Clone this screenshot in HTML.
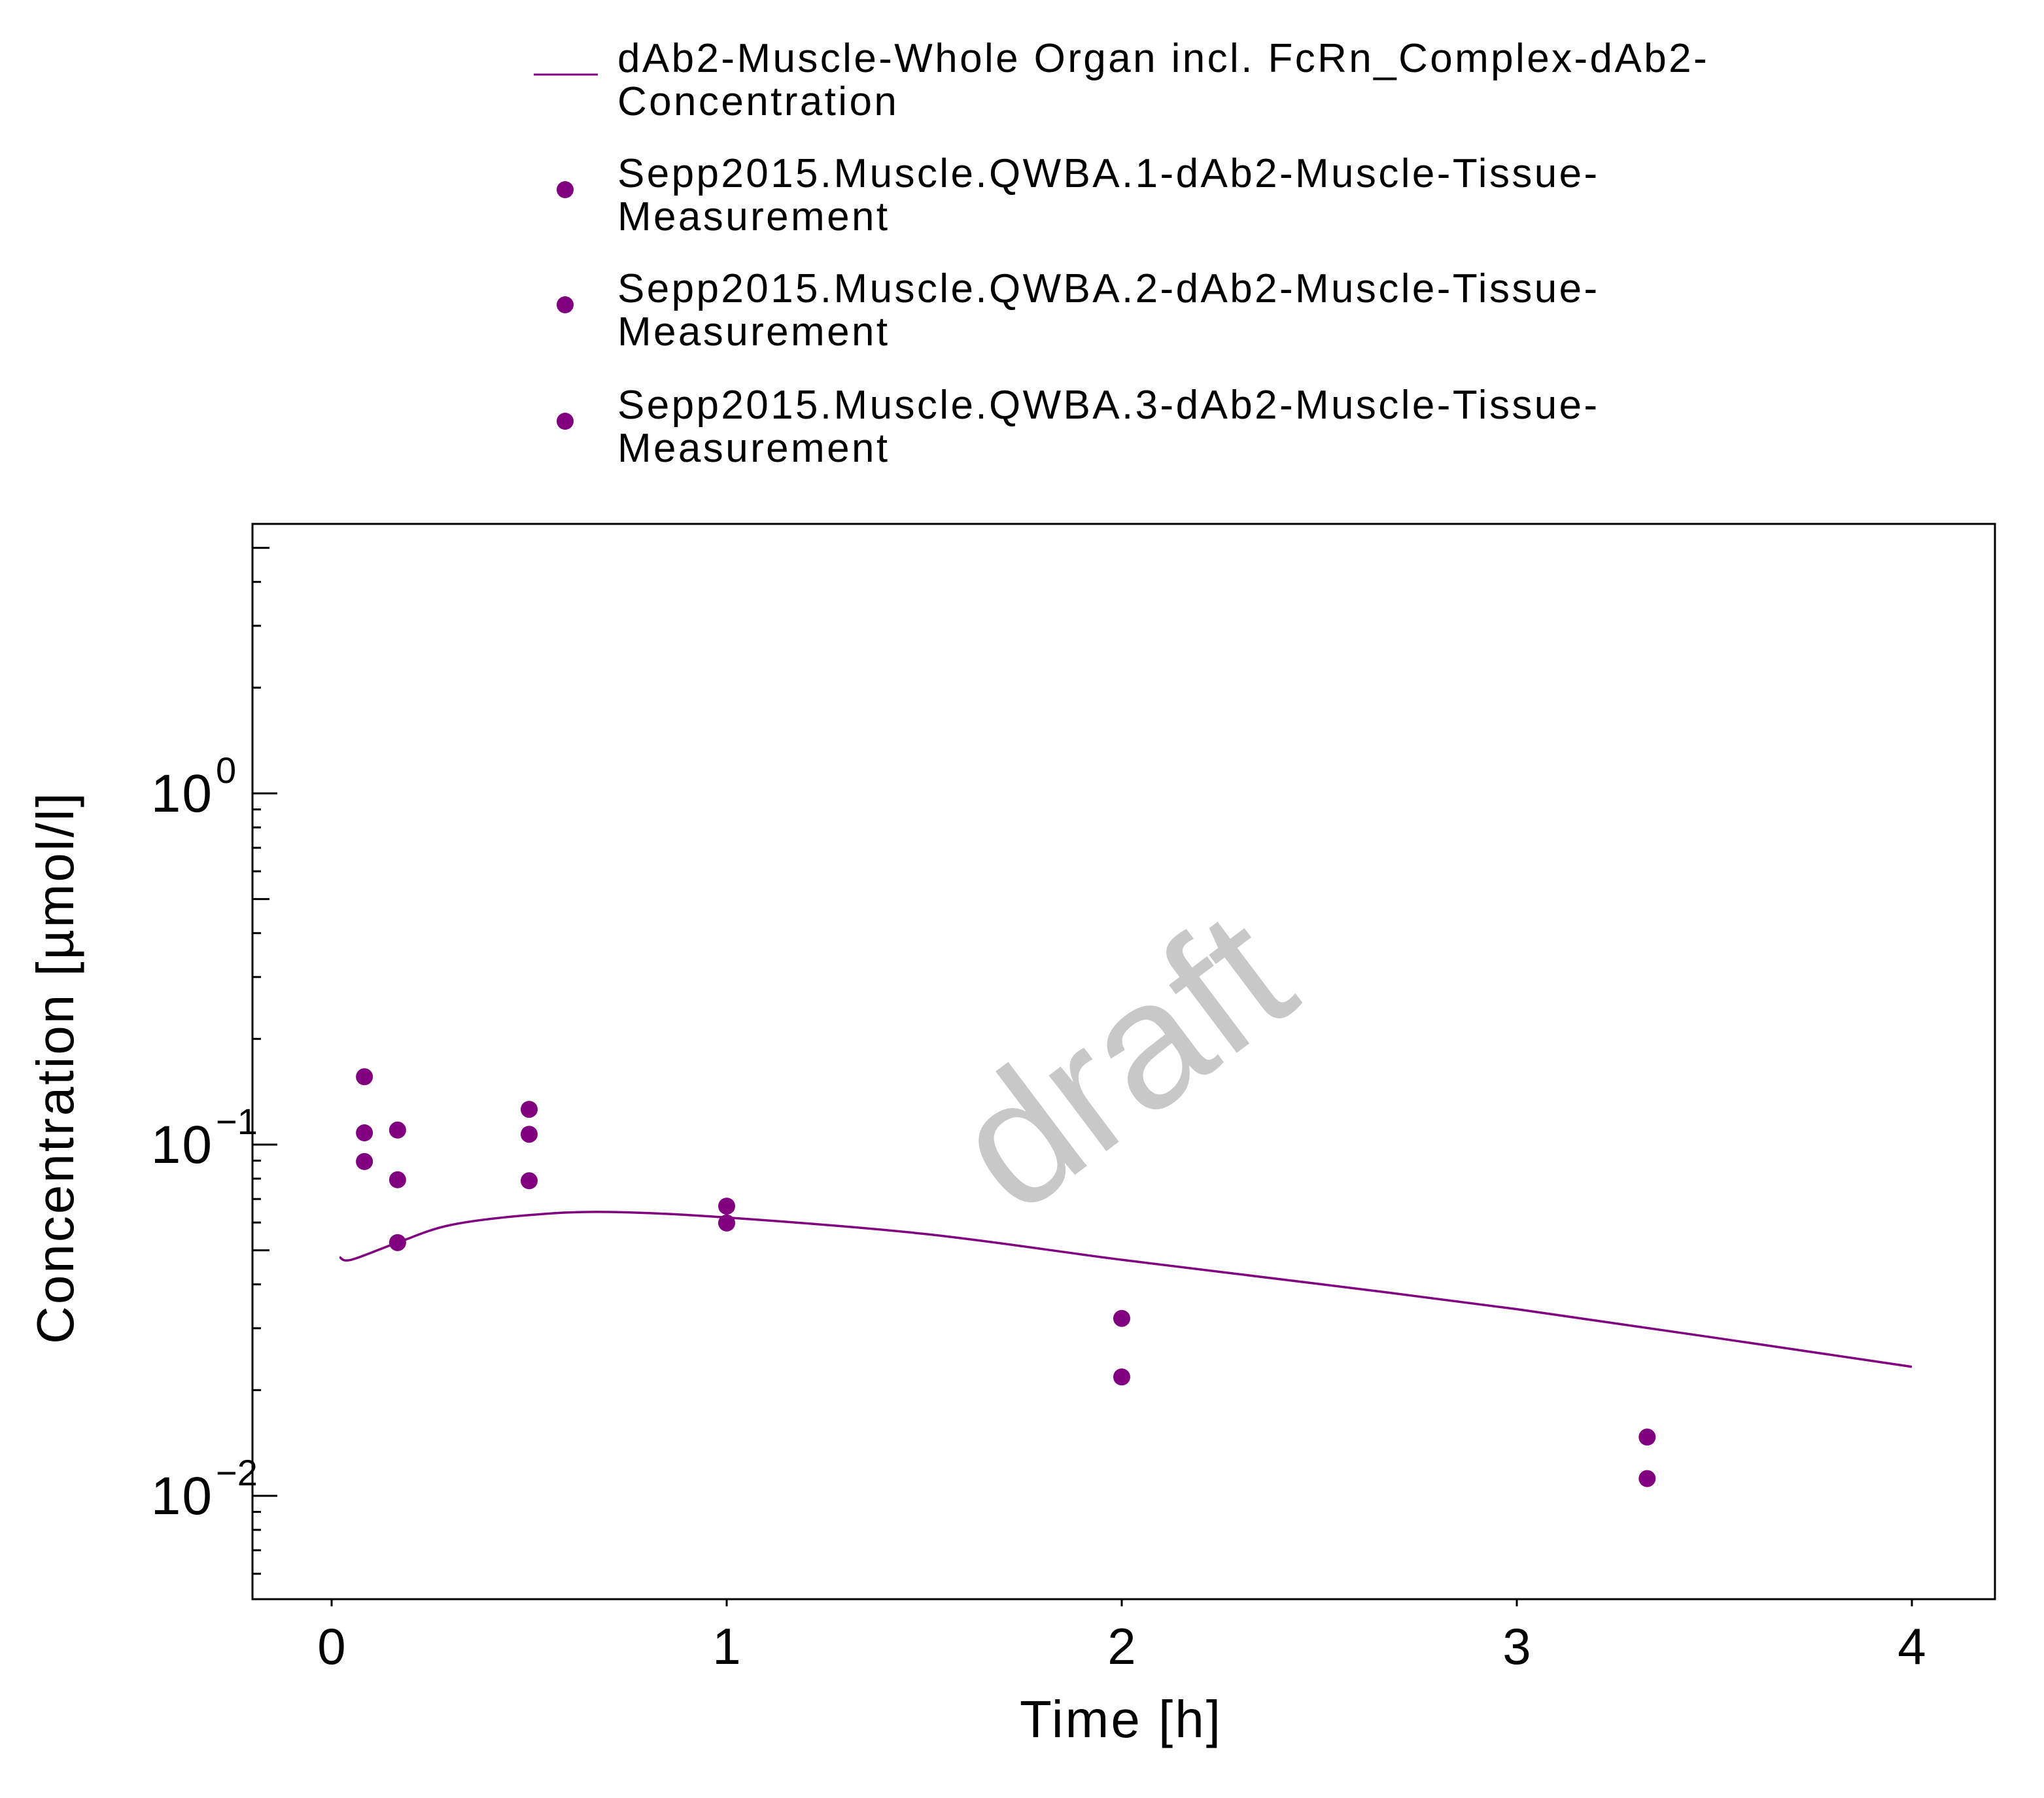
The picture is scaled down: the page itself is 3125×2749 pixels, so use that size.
<!DOCTYPE html>
<html><head><meta charset="utf-8"><style>
html,body{margin:0;padding:0;background:#fff;}
svg{display:block;font-family:"Liberation Sans","DejaVu Sans",sans-serif;}
</style></head><body>
<svg id="chart" width="3125" height="2749" viewBox="0 0 3125 2749" xmlns="http://www.w3.org/2000/svg">
<rect width="3125" height="2749" fill="#fff"/>
<g id="legend" font-size="62" fill="#000" letter-spacing="3.4">
  <g>
    <line x1="816" y1="114" x2="914" y2="114" stroke="#800080" stroke-width="3"/>
    <text x="944" y="110">dAb2-Muscle-Whole Organ incl. FcRn_Complex-dAb2-</text>
    <text x="944" y="176">Concentration</text>
  </g>
  <g>
    <circle cx="864" cy="290" r="13" fill="#800080"/>
    <text x="944" y="286">Sepp2015.Muscle.QWBA.1-dAb2-Muscle-Tissue-</text>
    <text x="944" y="352">Measurement</text>
  </g>
  <g>
    <circle cx="864" cy="466" r="13" fill="#800080"/>
    <text x="944" y="462">Sepp2015.Muscle.QWBA.2-dAb2-Muscle-Tissue-</text>
    <text x="944" y="528">Measurement</text>
  </g>
  <g>
    <circle cx="864" cy="644" r="13" fill="#800080"/>
    <text x="944" y="640">Sepp2015.Muscle.QWBA.3-dAb2-Muscle-Tissue-</text>
    <text x="944" y="706">Measurement</text>
  </g>
</g>
<text x="1730" y="1640" font-size="275" fill="#c8c8c8" text-anchor="middle" dominant-baseline="middle" transform="rotate(-37 1730 1640)">draft</text>
<g id="axes"></g>
<g id="marks"></g>
<text x="1714" y="2656" font-size="80" text-anchor="middle" letter-spacing="3">Time [h]</text>
<text x="112" y="1632" font-size="80" text-anchor="middle" letter-spacing="3" transform="rotate(-90 112 1632)">Concentration [µmol/l]</text>
</svg>
<script>
const xTicks = [0, 1, 2, 3, 4];
const yDecades = [-2, -1, 0];
const simTime = [0.02, 0.05, 0.167, 0.3, 0.5, 0.7, 1, 1.5, 2, 2.5, 3, 3.5, 4];
const simConc = [0.0478, 0.0470, 0.0526, 0.059, 0.063, 0.0643, 0.062, 0.0557, 0.047, 0.0401, 0.034, 0.0282, 0.0233];
const obsTime = [0.083, 0.083, 0.083, 0.167, 0.167, 0.167, 0.5, 0.5, 0.5, 1, 1, 2, 2, 3.33, 3.33];
const obsConc = [0.156, 0.108, 0.0895, 0.110, 0.0794, 0.0526, 0.126, 0.107, 0.0789, 0.0668, 0.0598, 0.032, 0.0218, 0.0147, 0.0112];

const L = 386, R = 3050, T = 801, B = 2445;
const X0 = 507, XU = 604;
const Y0 = 1213, DEC = 537;
function sx(v){ return X0 + v * XU; }
function sy(v){ return Y0 - Math.log10(v) * DEC; }
const NS = 'http://www.w3.org/2000/svg';
function mk(tag, attrs, parent){
  const e = document.createElementNS(NS, tag);
  for (const k in attrs) e.setAttribute(k, attrs[k]);
  parent.appendChild(e);
  return e;
}
const axes = document.getElementById('axes');
const marks = document.getElementById('marks');

const frame = mk('rect', {x:L, y:T, width:R-L, height:B-T, fill:'none', stroke:'#000', 'stroke-width':3}, axes);



xTicks.forEach(t => {
  const x = sx(t);
  const tk = mk('line', {x1:x, y1:B, x2:x, y2:B+11, stroke:'#000', 'stroke-width':3}, axes);
  
  
  const lb = mk('text', {x:x, y:2544, 'font-size':78, 'text-anchor':'middle'}, axes);
  lb.textContent = String(t);
  
  
});

yDecades.forEach(d => {
  const y = sy(Math.pow(10, d));
  const tk = mk('line', {x1:L, y1:y, x2:L+38, y2:y, stroke:'#000', 'stroke-width':3}, axes);
  
  
  const lb = mk('text', {x:326, y:y+28, 'font-size':82, 'text-anchor':'end', 'letter-spacing':2}, axes);
  lb.textContent = '10';
  
  
  const sp = mk('text', {x:330, y:y-16, 'font-size':56, 'text-anchor':'start'}, axes);
  sp.textContent = d === 0 ? '0' : '\u2212' + Math.abs(d);
  
  
});
for (let d = -3; d <= 0; d++) {
  for (let m = 2; m <= 9; m++) {
    const v = m * Math.pow(10, d);
    const y = sy(v);
    if (y < T || y > B) continue;
    const len = m === 5 ? 26 : 13;
    const tk = mk('line', {x1:L, y1:y, x2:L+len, y2:y, stroke:'#000', 'stroke-width':3}, axes);
    
    
  }
}

// smooth curve (Catmull-Rom) through simulated points
const P = simTime.map((t, i) => [sx(t), sy(simConc[i])]);
let d = 'M' + P[0][0].toFixed(1) + ',' + P[0][1].toFixed(1);
for (let i = 0; i < P.length - 1; i++) {
  const p0 = P[Math.max(0, i - 1)], p1 = P[i], p2 = P[i + 1], p3 = P[Math.min(P.length - 1, i + 2)];
  const c1 = [p1[0] + (p2[0] - p0[0]) / 6, p1[1] + (p2[1] - p0[1]) / 6];
  const c2 = [p2[0] - (p3[0] - p1[0]) / 6, p2[1] - (p3[1] - p1[1]) / 6];
  d += ' C' + c1.map(v => v.toFixed(1)).join(',') + ' ' + c2.map(v => v.toFixed(1)).join(',') + ' ' + p2.map(v => v.toFixed(1)).join(',');
}
const line = mk('path', {d:d, fill:'none', stroke:'#800080', 'stroke-width':3.5, 'stroke-linejoin':'round'}, marks);



obsTime.forEach((t, i) => {
  const c = mk('circle', {cx:sx(t), cy:sy(obsConc[i]), r:13, fill:'#800080'}, marks);
  
  
});
</script>
</body></html>
